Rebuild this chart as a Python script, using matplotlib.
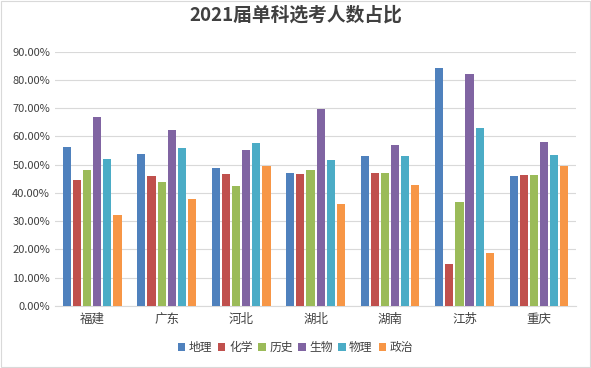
import matplotlib.pyplot as plt
import numpy as np
from matplotlib.ticker import PercentFormatter

plt.rcParams['font.family'] = ['Noto Sans CJK SC', 'DejaVu Sans']

provinces = ['福建', '广东', '河北', '湖北', '湖南', '江苏', '重庆']
subjects = ['地理', '化学', '历史', '生物', '物理', '政治']
colors = ['#4F81BD', '#C0504D', '#9BBB59', '#8064A2', '#4BACC6', '#F79646']

geo = [56.2, 53.7, 48.8, 47.0, 53.0, 84.2, 45.9]
chem = [44.5, 45.9, 46.6, 46.6, 47.0, 14.8, 46.3]
hist = [48.1, 43.8, 42.4, 48.1, 47.0, 36.7, 46.3]
bio = [66.8, 62.2, 55.2, 69.7, 56.9, 82.1, 58.0]
phys = [52.0, 55.9, 57.6, 51.6, 53.0, 63.0, 53.4]
poli = [32.1, 37.8, 49.5, 36.0, 42.8, 18.7, 49.5]
series = [geo, chem, hist, bio, phys, poli]

fig = plt.figure(figsize=(5.91, 3.68), dpi=100)
ax = fig.add_axes([0.093, 0.169, 0.882, 0.691])

x = np.arange(len(provinces))
step = 0.136
width = 0.11
for i, vals in enumerate(series):
    ax.bar(x + (i - 2.5) * step, vals, width, color=colors[i], label=subjects[i], zorder=3)

ax.set_ylim(0, 90)
ax.set_xlim(-0.5, len(provinces) - 0.5)
ax.set_yticks(np.arange(0, 91, 10))
ax.yaxis.set_major_formatter(PercentFormatter(decimals=2))
ax.grid(axis='y', color='#D9D9D9', linewidth=0.8, zorder=0)
ax.set_xticks(x)
ax.set_xticklabels(provinces)
ax.tick_params(axis='both', length=0, labelsize=8, colors='#404040')
ax.tick_params(axis='x', pad=5, labelsize=9)
for s in ['left', 'right', 'top']:
    ax.spines[s].set_visible(False)
ax.spines['bottom'].set_color('#D9D9D9')

fig.suptitle('2021届单科选考人数占比', y=0.985, fontsize=13.5, fontweight='bold', color='#404040')
fig.legend(loc='center', bbox_to_anchor=(0.5, 0.055), ncol=6, frameon=False, fontsize=8.5,
           handlelength=0.6, handleheight=0.6, handletextpad=0.3, columnspacing=0.5,
           labelcolor='#404040')

fig.patches.append(plt.Rectangle((0.002, 0.003), 0.996, 0.994, transform=fig.transFigure,
                                 fill=False, edgecolor='#D9D9D9', linewidth=0.8))

fig.savefig('out.png', dpi=100)
